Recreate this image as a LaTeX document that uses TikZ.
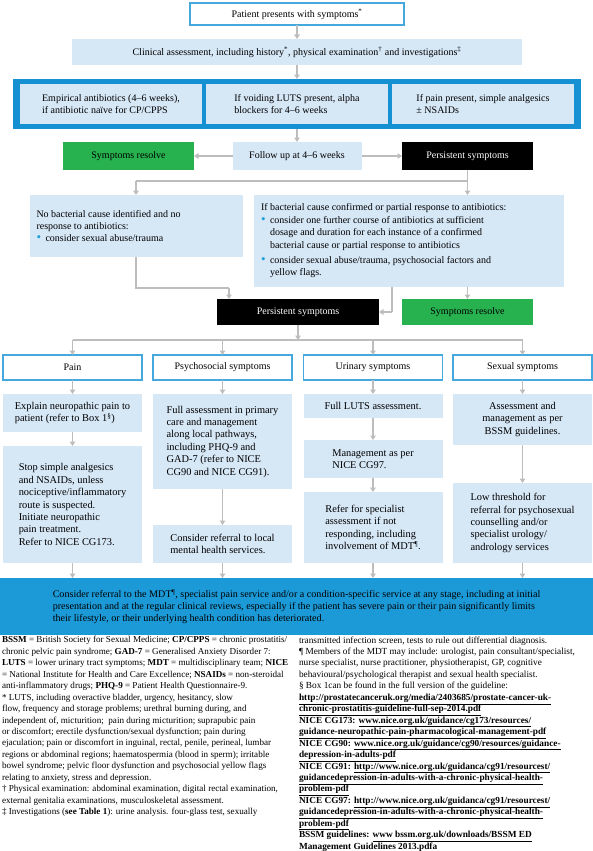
\documentclass[tikz,border=0pt]{standalone}
\usepackage{fontspec}
\setmainfont{Liberation Serif}
\usetikzlibrary{arrows.meta,positioning}
\definecolor{paleblue}{HTML}{D6E7F6}
\definecolor{frameblue}{HTML}{1590D2}
\definecolor{boxblue}{HTML}{1C9AD8}
\definecolor{edgeblue}{HTML}{45A9DE}
\definecolor{okgreen}{HTML}{27B14F}
\definecolor{linkgray}{HTML}{BDBDBD}
\definecolor{dotblue}{HTML}{1AA0D8}
\newlength\bulw
\setlength\bulw{9pt}
\newcommand\bul{\makebox[\bulw][l]{\textcolor{dotblue}{\fontsize{13}{12}\selectfont\textbullet}}}
\newcommand\weblink[1]{\underline{\textbf{#1}}}
\tikzset{
  every node/.style={inner sep=0pt, outer sep=0pt, font=\fontsize{10}{12.4}\selectfont},
  pale/.style={fill=paleblue},
  colbox/.style={pale, align=left, minimum width=139pt, font=\fontsize{10.4}{12.4}\selectfont},
  edged/.style={fill=white, draw=edgeblue, line width=1.1pt},
  dark/.style={fill=black, text=white},
  resolved/.style={fill=okgreen},
  link/.style={draw=linkgray, line width=1.2pt},
  flow/.style={link, -{Triangle[width=5.5pt,length=4.5pt]}},
  notes/.style={anchor=north west, align=left, font=\fontsize{9.3}{11.45}\selectfont},
}
\begin{document}
\begin{tikzpicture}[x=1pt,y=-1pt]
\useasboundingbox (0,0) rectangle (593,851);
% first steps
\node[edged, minimum width=214pt, minimum height=22pt] (start) at (297,14) {Patient presents with symptoms\textsuperscript{*}};
\node[pale, minimum width=450pt, minimum height=26pt] (clin) at (297,52) {Clinical assessment, including history\textsuperscript{*}, physical examination\textsuperscript{†} and investigations\textsuperscript{‡}};
\node[fill=frameblue, minimum width=568pt, minimum height=50pt] (frame) at (297,104) {};
\node[pale, align=left, minimum width=182pt, minimum height=40pt] (abx) at (111,104) {Empirical antibiotics (4–6 weeks),\\if antibiotic naïve for CP/CPPS};
\node[pale, align=left, minimum width=182pt, minimum height=40pt] (alpha) at (297,104) {If voiding LUTS present, alpha\\blockers for 4–6 weeks};
\node[pale, align=left, minimum width=182pt, minimum height=40pt] (nsaid) at (483,104) {If pain present, simple analgesics\\± NSAIDs};
% follow up
\node[pale, minimum width=129pt, minimum height=28pt] (follow) at (297,156) {Follow up at 4–6 weeks};
\node[resolved, minimum width=131pt, minimum height=28pt] (ok1) at (128.5,156) {Symptoms resolve};
\node[dark, minimum width=131pt, minimum height=28pt] (pers1) at (467.5,156) {Persistent symptoms};
\node[pale, minimum width=213pt, minimum height=62pt] (nobac) at (136,226) {\parbox{199pt}{\raggedright No bacterial cause identified and no\\response to antibiotics:\\\bul consider sexual abuse/trauma}};
\node[pale, minimum width=310pt, minimum height=92pt] (bac) at (409,241) {\parbox{296pt}{\raggedright If bacterial cause confirmed or partial response to antibiotics:\\
\bul consider one further course of antibiotics at sufficient\\
\hspace*{\bulw}dosage and duration for each instance of a confirmed\\
\hspace*{\bulw}bacterial cause or partial response to antibiotics\\[3pt]
\bul consider sexual abuse/trauma, psychosocial factors and\\
\hspace*{\bulw}yellow flags.}};
\node[dark, minimum width=162pt, minimum height=26pt] (pers2) at (298,312) {Persistent symptoms};
\node[resolved, minimum width=131pt, minimum height=26pt] (ok2) at (467.5,312) {Symptoms resolve};
% four groups of symptoms
\node[edged, minimum width=139pt, minimum height=25pt] (pain) at (72.5,367.5) {Pain};
\node[edged, minimum width=139pt, minimum height=25pt] (psy) at (222.5,367.5) {Psychosocial symptoms};
\node[edged, minimum width=139pt, minimum height=25pt] (uri) at (373,367.5) {Urinary symptoms};
\node[edged, minimum width=139pt, minimum height=25pt] (sex) at (522.5,367.5) {Sexual symptoms};
\node[colbox, minimum height=38pt] (pain1) at (72.5,413) {Explain neuropathic pain to\\patient (refer to Box 1\textsuperscript{§})};
\node[colbox, minimum height=117pt] (pain2) at (72.5,504.5) {Stop simple analgesics\\and NSAIDs, unless\\nociceptive/inflammatory\\route is suspected.\\Initiate neuropathic\\pain treatment.\\Refer to NICE CG173.};
\node[colbox, minimum height=95pt] (psy1) at (222.5,441.5) {Full assessment in primary\\care and management\\along local pathways,\\including PHQ-9 and\\GAD-7 (refer to NICE\\CG90 and NICE CG91).};
\node[colbox, minimum height=38pt] (psy2) at (222.5,544) {Consider referral to local\\mental health services.};
\node[colbox, minimum height=24pt] (uri1) at (373,406) {Full LUTS assessment.};
\node[colbox, minimum height=38pt] (uri2) at (373,459) {Management as per\\NICE CG97.};
\node[colbox, minimum height=71pt] (uri3) at (373,527.5) {Refer for specialist\\assessment if not\\responding, including\\involvement of MDT\textsuperscript{¶}.};
\node[colbox, align=center, minimum height=51pt] (sex1) at (522.5,419.5) {Assessment and\\management as per\\BSSM guidelines.};
\node[colbox, minimum height=80pt] (sex2) at (522.5,523) {Low threshold for\\referral for psychosexual\\counselling and/or\\specialist urology/\\andrology services};
\node[fill=boxblue, align=left, minimum width=593pt, minimum height=57pt, font=\fontsize{10.1}{11.7}\selectfont] (mdt) at (296.5,606.5) {Consider referral to the MDT\textsuperscript{¶}, specialist pain service and/or a condition-specific service at any stage, including at initial\\presentation and at the regular clinical reviews, especially if the patient has severe pain or their pain significantly limits\\their lifestyle, or their underlying health condition has deteriorated.};
% connectors
\coordinate (j1) at (467.5,181);
\coordinate (j1l) at (136,181);
\coordinate (j2) at (136,288);
\coordinate (j2r) at (229,288);
\coordinate (j3) at (392,312);
\coordinate (j4) at (298,340);
\coordinate (j4l) at (72.5,340);
\coordinate (j4r) at (522.5,340);
\draw[flow] (start) -- (clin);
\draw[flow] (clin) -- (frame);
\draw[flow] (frame) -- (follow);
\draw[flow] (follow) -- (ok1);
\draw[flow] (follow) -- (pers1);
\draw[link] (pers1.south) -- (j1) -- (j1l);
\draw[flow] (j1l) -- (j1l |- nobac.north);
\draw[flow] (pers1.south) -- (pers1.south |- bac.north);
\draw[link] (nobac.south -| j2) -- (j2) -- (j2r);
\draw[flow] (j2r) -- (j2r |- pers2.north);
\draw[link] (bac.south -| j3) -- (j3);
\draw[flow] (j3) -- (pers2.east);
\draw[flow] (bac.south -| ok2) -- (ok2.north);
\draw[flow] (pers2.south) -- (j4);
\draw[link] (j4l) -- (j4r);
\foreach \grp in {pain,psy,uri,sex}
  \draw[flow] (j4l -| \grp) -- (\grp.north);
\draw[flow] (pain) -- (pain1);
\draw[flow] (pain1) -- (pain2);
\draw[flow] (psy) -- (psy1);
\draw[flow] (psy1) -- (psy2);
\draw[flow] (uri) -- (uri1);
\draw[flow] (uri1) -- (uri2);
\draw[flow] (uri2) -- (uri3);
\draw[flow] (sex) -- (sex1);
\draw[flow] (sex1) -- (sex2);
\foreach \grp in {pain2,psy2,uri3,sex2}
  \draw[flow] (\grp.south) -- (\grp.south |- mdt.north);
% footnotes
\node[notes, font=\fontsize{9.1}{11.45}\selectfont] (abbrev) at (2,636.5) {\textbf{BSSM} = British Society for Sexual Medicine; \textbf{CP/CPPS} = chronic prostatitis/\\
chronic pelvic pain syndrome; \textbf{GAD-7} = Generalised Anxiety Disorder 7:\\
\textbf{LUTS} = lower urinary tract symptoms; \textbf{MDT} = multidisciplinary team; \textbf{NICE}\\
= National Institute for Health and Care Excellence; \textbf{NSAIDs} = non-steroidal\\
anti-inflammatory drugs; \textbf{PHQ-9} = Patient Health Questionnaire-9.\\
* LUTS, including overactive bladder, urgency, hesitancy, slow\\
flow, frequency and storage problems; urethral burning during, and\\
independent of, micturition;\ \ pain during micturition; suprapubic pain\\
or discomfort; erectile dysfunction/sexual dysfunction; pain during\\
ejaculation; pain or discomfort in inguinal, rectal, penile, perineal, lumbar\\
regions or abdominal regions; haematospermia (blood in sperm); irritable\\
bowel syndrome; pelvic floor dysfunction and psychosocial yellow flags\\
relating to anxiety, stress and depression.\\
† Physical examination: abdominal examination, digital rectal examination,\\
external genitalia examinations, musculoskeletal assessment.\\
‡ Investigations (\textbf{see Table 1}): urine analysis. four-glass test, sexually};
\node[notes] (refs) at (299,636.5) {transmitted infection screen, tests to rule out differential diagnosis.\\
¶ Members of the MDT may include: urologist, pain consultant/specialist,\\
nurse specialist, nurse practitioner, physiotherapist, GP, cognitive\\
behavioural/psychological therapist and sexual health specialist.\\
§ Box 1can be found in the full version of the guideline:\\
\weblink{http://prostatecanceruk.org/media/2403685/prostate-cancer-uk-}\\
\weblink{chronic-prostatitis-guideline-full-sep-2014.pdf}\\
\textbf{NICE CG173:} \weblink{www.nice.org.uk/guidance/cg173/resources/}\\
\weblink{guidance-neuropathic-pain-pharmacological-management-pdf}\\
\textbf{NICE CG90:} \weblink{www.nice.org.uk/guidance/cg90/resources/guidance-}\\
\weblink{depression-in-adults-pdf}\\
\textbf{NICE CG91:} \weblink{http://www.nice.org.uk/guidanca/cg91/resourcest/}\\
\weblink{guidancedepression-in-adults-with-a-chronic-physical-health-}\\
\weblink{problem-pdf}\\
\textbf{NICE CG97:} \weblink{http://www.nice.org.uk/guidanca/cg91/resourcest/}\\
\weblink{guidancedepression-in-adults-with-a-chronic-physical-health-}\\
\weblink{problem-pdf}\\
\textbf{BSSM guidelines:} \weblink{www bssm.org.uk/downloads/BSSM ED}\\
\weblink{Management Guidelines 2013.pdfa}};
\end{tikzpicture}
\end{document}
